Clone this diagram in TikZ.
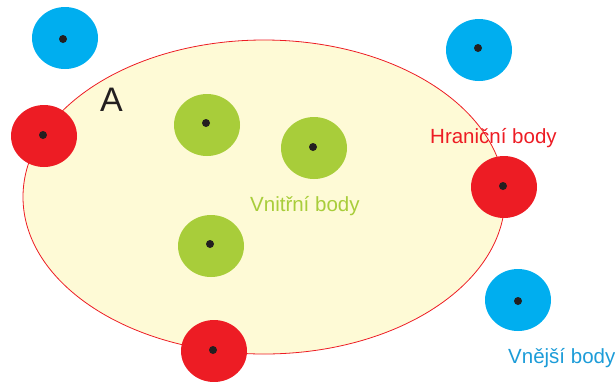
\documentclass[tikz,border=0pt]{standalone}
\usepackage{fontspec}
\setmainfont{Liberation Sans}
\usetikzlibrary{shapes.geometric}
\definecolor{cblue}{HTML}{00AEEF}
\definecolor{cred}{HTML}{ED1C24}
\definecolor{cgreen}{HTML}{A8CD3A}
\definecolor{cyellow}{HTML}{FEFAD6}
\definecolor{cdot}{HTML}{231F20}
\definecolor{ctblue}{HTML}{1C9CD8}
\tikzset{
  blob/.style={ellipse, minimum width=66pt, minimum height=62pt, inner sep=0pt, draw=none},
  bluep/.style={blob, fill=cblue},
  redp/.style={blob, fill=cred},
  greenp/.style={blob, fill=cgreen},
  dotp/.style={circle, fill=cdot, minimum size=8pt, inner sep=0pt},
  lbl/.style={anchor=base west, inner sep=0pt, font=\fontsize{20.5}{24}\selectfont}
}
\begin{document}
\begin{tikzpicture}[x=1pt,y=-1pt]
\useasboundingbox (0,0) rectangle (615,381);
\node[ellipse, minimum width=482pt, minimum height=314pt, inner sep=0pt, fill=cyellow, draw=cred, line width=0.8pt] (A) at (264,197) {};
\node[anchor=base west, inner sep=0pt, text=cdot, font=\fontsize{34}{40}\selectfont] (Alab) at (100,111) {A};
% exterior points
\node[bluep] (b1) at (65,38) {};
\node[bluep] (b2) at (479,50) {};
\node[bluep] (b3) at (518,300) {};
% boundary points
\node[redp] (r1) at (44,136) {};
\node[redp] (r2) at (504,187) {};
\node[redp] (r3) at (214,351) {};
% interior points
\node[greenp] (g1) at (207,125) {};
\node[greenp] (g2) at (314,148) {};
\node[greenp] (g3) at (211,246) {};
% dots
\node[dotp] (db1) at (63,39) {};
\node[dotp] (db2) at (478,48) {};
\node[dotp] (db3) at (518,301) {};
\node[dotp] (dr1) at (43,135) {};
\node[dotp] (dr2) at (503,186) {};
\node[dotp] (dr3) at (213,350) {};
\node[dotp] (dg1) at (206,123) {};
\node[dotp] (dg2) at (313,147) {};
\node[dotp] (dg3) at (210,244) {};
% labels
\node[lbl, text=cred] (lh) at (430,143) {Hraniční body};
\node[lbl, text=cgreen] (lv) at (250,211) {Vnitřní body};
\node[lbl, text=ctblue] (le) at (508,363) {Vnější body};
\end{tikzpicture}
\end{document}
